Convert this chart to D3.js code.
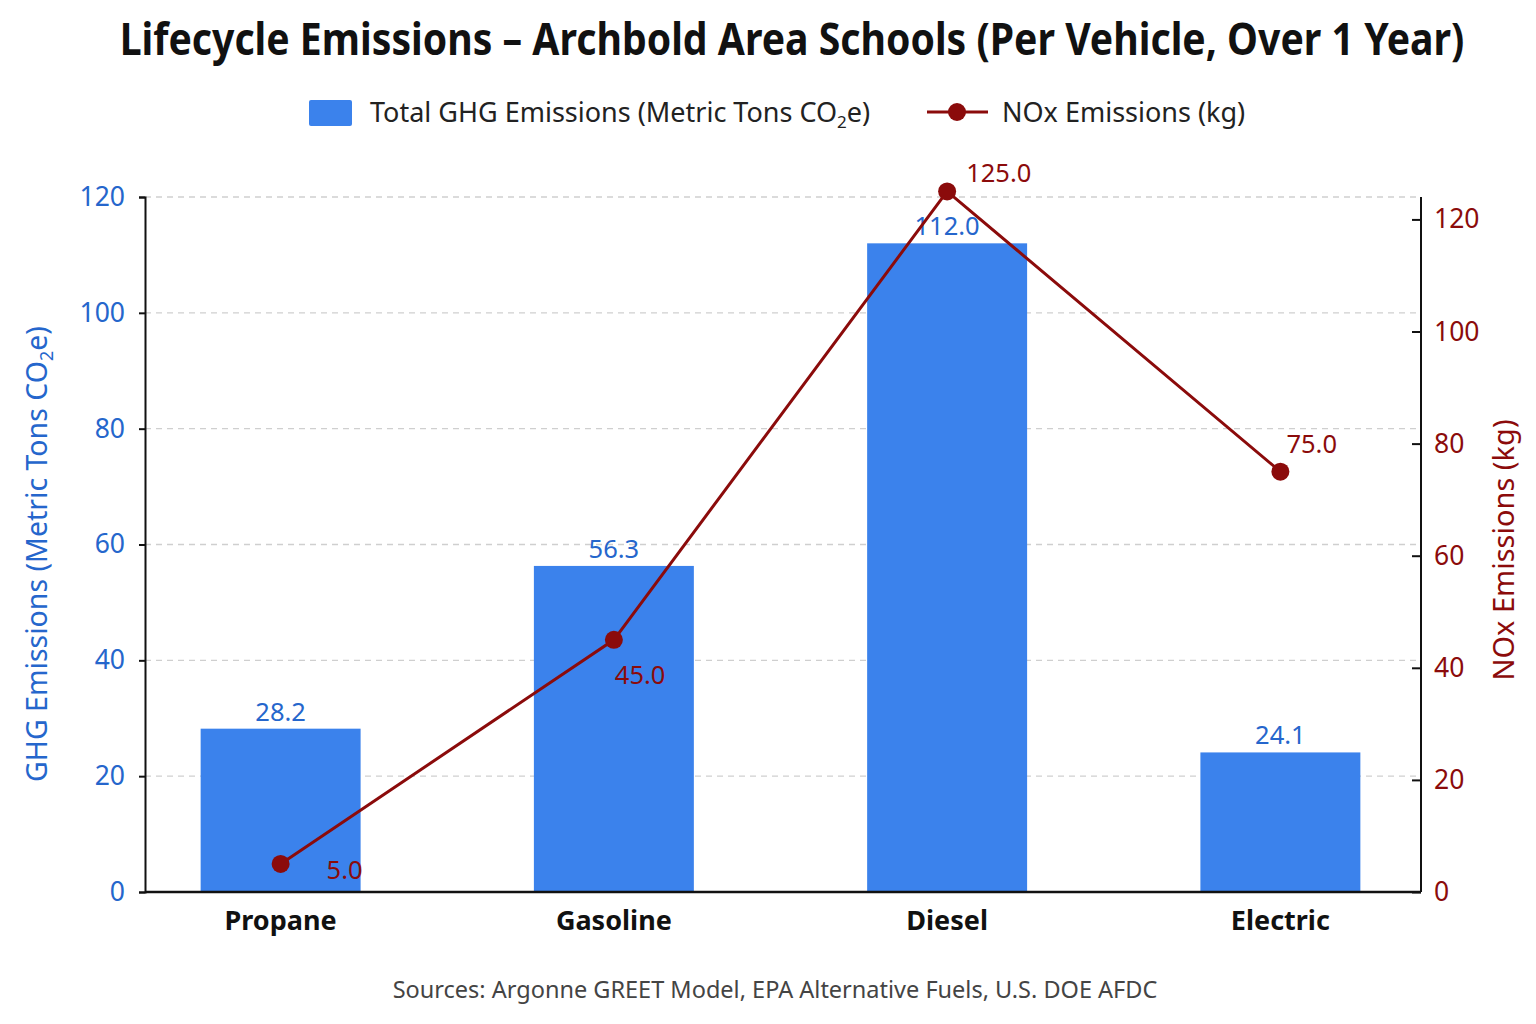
<!DOCTYPE html>
<html>
<head>
<meta charset="utf-8">
<script src="https://cdn.jsdelivr.net/npm/d3@7"></script>
<style>
  body { margin: 0; background: #fff; }
  svg { font-family: "Noto Sans", "Open Sans", sans-serif; }
</style>
</head>
<body>
<div id="chart"></div>
<script>
// data
const fuels = ["Propane", "Gasoline", "Diesel", "Electric"];
const ghgValues = [28.2, 56.3, 112.0, 24.1];
const noxValues = [5.0, 45.0, 125.0, 75.0];
const ghgTicks = [0, 20, 40, 60, 80, 100, 120];
const noxTicks = [0, 20, 40, 60, 80, 100, 120];

const width = 1536, height = 1024;
const plot = { left: 145, right: 1421, top: 197, bottom: 892 };
const blue = "#3b82ec", blueText = "#2566cc", red = "#8b0b0b";

const svg = d3.select("#chart").append("svg")
    .attr("width", width).attr("height", height);

// bands a bit wider than the plot so the bars sit where the picture has them
const x = d3.scaleBand().domain(fuels)
    .range([84, 1477]).paddingInner(0.52).paddingOuter(0.35);
const yL = d3.scaleLinear().domain([0, 120]).range([plot.bottom, plot.top]);
const yR = d3.scaleLinear().domain([0, 124]).range([plot.bottom, plot.top]);

// title, squeezed horizontally to the picture's width
const title = svg.append("text")
    .attr("text-anchor", "middle")
    .attr("font-size", 44).attr("font-weight", "bold").attr("fill", "#111")
    .text("Lifecycle Emissions \u2013 Archbold Area Schools (Per Vehicle, Over 1 Year)");
const titleW = title.node().getComputedTextLength();
const sx = Math.min(1, 1345 / titleW);
title.attr("transform", `translate(792,55) scale(${sx},1)`);

// gridlines
svg.append("g").selectAll("line")
    .data(ghgTicks.filter(d => d > 0))
    .join("line")
    .attr("x1", plot.left).attr("x2", plot.right)
    .attr("y1", d => yL(d)).attr("y2", d => yL(d))
    .attr("stroke", "#cfcfcf").attr("stroke-width", 1.3)
    .attr("stroke-dasharray", "6,5");

// bars
svg.append("g").selectAll("rect")
    .data(fuels)
    .join("rect")
    .attr("x", d => x(d))
    .attr("width", x.bandwidth())
    .attr("y", (d, i) => yL(ghgValues[i]))
    .attr("height", (d, i) => plot.bottom - yL(ghgValues[i]))
    .attr("fill", blue);

svg.append("g").selectAll("text")
    .data(fuels)
    .join("text")
    .attr("x", d => x(d) + x.bandwidth() / 2)
    .attr("y", (d, i) => yL(ghgValues[i]) - 8)
    .attr("text-anchor", "middle")
    .attr("font-size", 25.5).attr("fill", blueText)
    .text((d, i) => ghgValues[i].toFixed(1));

// left axis
const axL = svg.append("g")
    .attr("transform", `translate(${plot.left},0)`)
    .call(d3.axisLeft(yL).tickValues(ghgTicks).tickSize(6).tickPadding(14));
axL.select(".domain").attr("stroke", "#111").attr("stroke-width", 2);
axL.selectAll(".tick line").attr("stroke", "#111").attr("stroke-width", 2);
axL.selectAll(".tick text").attr("fill", blueText).attr("font-size", 26.5)
    .attr("font-family", "Noto Sans, sans-serif");

// right axis
const axR = svg.append("g")
    .attr("transform", `translate(${plot.right},0)`)
    .call(d3.axisRight(yR).tickValues(noxTicks).tickSize(-9).tickPadding(13));
axR.select(".domain").attr("stroke", "#111").attr("stroke-width", 2)
    .attr("d", `M0,${plot.bottom}V${plot.top}`);
axR.selectAll(".tick line").attr("stroke", "#111").attr("stroke-width", 2);
axR.selectAll(".tick text").attr("fill", red).attr("font-size", 26.5)
    .attr("font-family", "Noto Sans, sans-serif");

// x axis baseline
svg.append("line")
    .attr("x1", plot.left).attr("x2", plot.right)
    .attr("y1", plot.bottom).attr("y2", plot.bottom)
    .attr("stroke", "#111").attr("stroke-width", 2.5);

svg.append("g").selectAll("text")
    .data(fuels)
    .join("text")
    .attr("x", d => x(d) + x.bandwidth() / 2)
    .attr("y", 930)
    .attr("text-anchor", "middle")
    .attr("font-size", 27).attr("font-weight", "bold").attr("fill", "#111")
    .text(d => d);

// axis titles
const leftTitle = svg.append("text")
    .attr("transform", "translate(47,554) rotate(-90)")
    .attr("text-anchor", "middle")
    .attr("font-size", 28.5).attr("fill", blueText);
leftTitle.append("tspan").text("GHG Emissions (Metric Tons CO");
leftTitle.append("tspan").attr("font-size", 18).attr("dy", 6).text("2");
leftTitle.append("tspan").attr("dy", -6).text("e)");

svg.append("text")
    .attr("transform", "translate(1514,550) rotate(-90)")
    .attr("text-anchor", "middle")
    .attr("font-size", 29).attr("fill", red)
    .text("NOx Emissions (kg)");

// NOx line
const xc = d => x(d) + x.bandwidth() / 2;
const line = d3.line()
    .x(d => xc(d))
    .y((d, i) => yR(noxValues[i]));
svg.append("path")
    .datum(fuels)
    .attr("d", line)
    .attr("fill", "none").attr("stroke", red).attr("stroke-width", 3);

svg.append("g").selectAll("circle")
    .data(fuels)
    .join("circle")
    .attr("cx", xc)
    .attr("cy", (d, i) => yR(noxValues[i]))
    .attr("r", 9).attr("fill", red);

// label offsets per point (dx, dy)
const noxLabelOffsets = [[46, 15], [1, 44], [19, -9], [6, -19]];
svg.append("g").selectAll("text")
    .data(fuels)
    .join("text")
    .attr("x", (d, i) => xc(d) + noxLabelOffsets[i][0])
    .attr("y", (d, i) => yR(noxValues[i]) + noxLabelOffsets[i][1])
    .attr("font-size", 25.5).attr("fill", red)
    .text((d, i) => noxValues[i].toFixed(1));

// legend
const legend = svg.append("g");
legend.append("rect")
    .attr("x", 309).attr("y", 100).attr("width", 43).attr("height", 26)
    .attr("rx", 2).attr("fill", blue);
const lt = legend.append("text")
    .attr("x", 370).attr("y", 122)
    .attr("font-size", 27).attr("fill", "#222");
lt.append("tspan").text("Total GHG Emissions (Metric Tons CO");
lt.append("tspan").attr("font-size", 17).attr("dy", 6).text("2");
lt.append("tspan").attr("dy", -6).text("e)");

legend.append("line")
    .attr("x1", 927).attr("x2", 988).attr("y1", 112).attr("y2", 112)
    .attr("stroke", red).attr("stroke-width", 3);
legend.append("circle")
    .attr("cx", 957).attr("cy", 112).attr("r", 9).attr("fill", red);
legend.append("text")
    .attr("x", 1002).attr("y", 122)
    .attr("font-size", 27).attr("fill", "#222")
    .text("NOx Emissions (kg)");

// source note
svg.append("text")
    .attr("x", 775).attr("y", 998)
    .attr("text-anchor", "middle")
    .attr("font-size", 23.5).attr("fill", "#444")
    .text("Sources: Argonne GREET Model, EPA Alternative Fuels, U.S. DOE AFDC");
</script>
</body>
</html>
